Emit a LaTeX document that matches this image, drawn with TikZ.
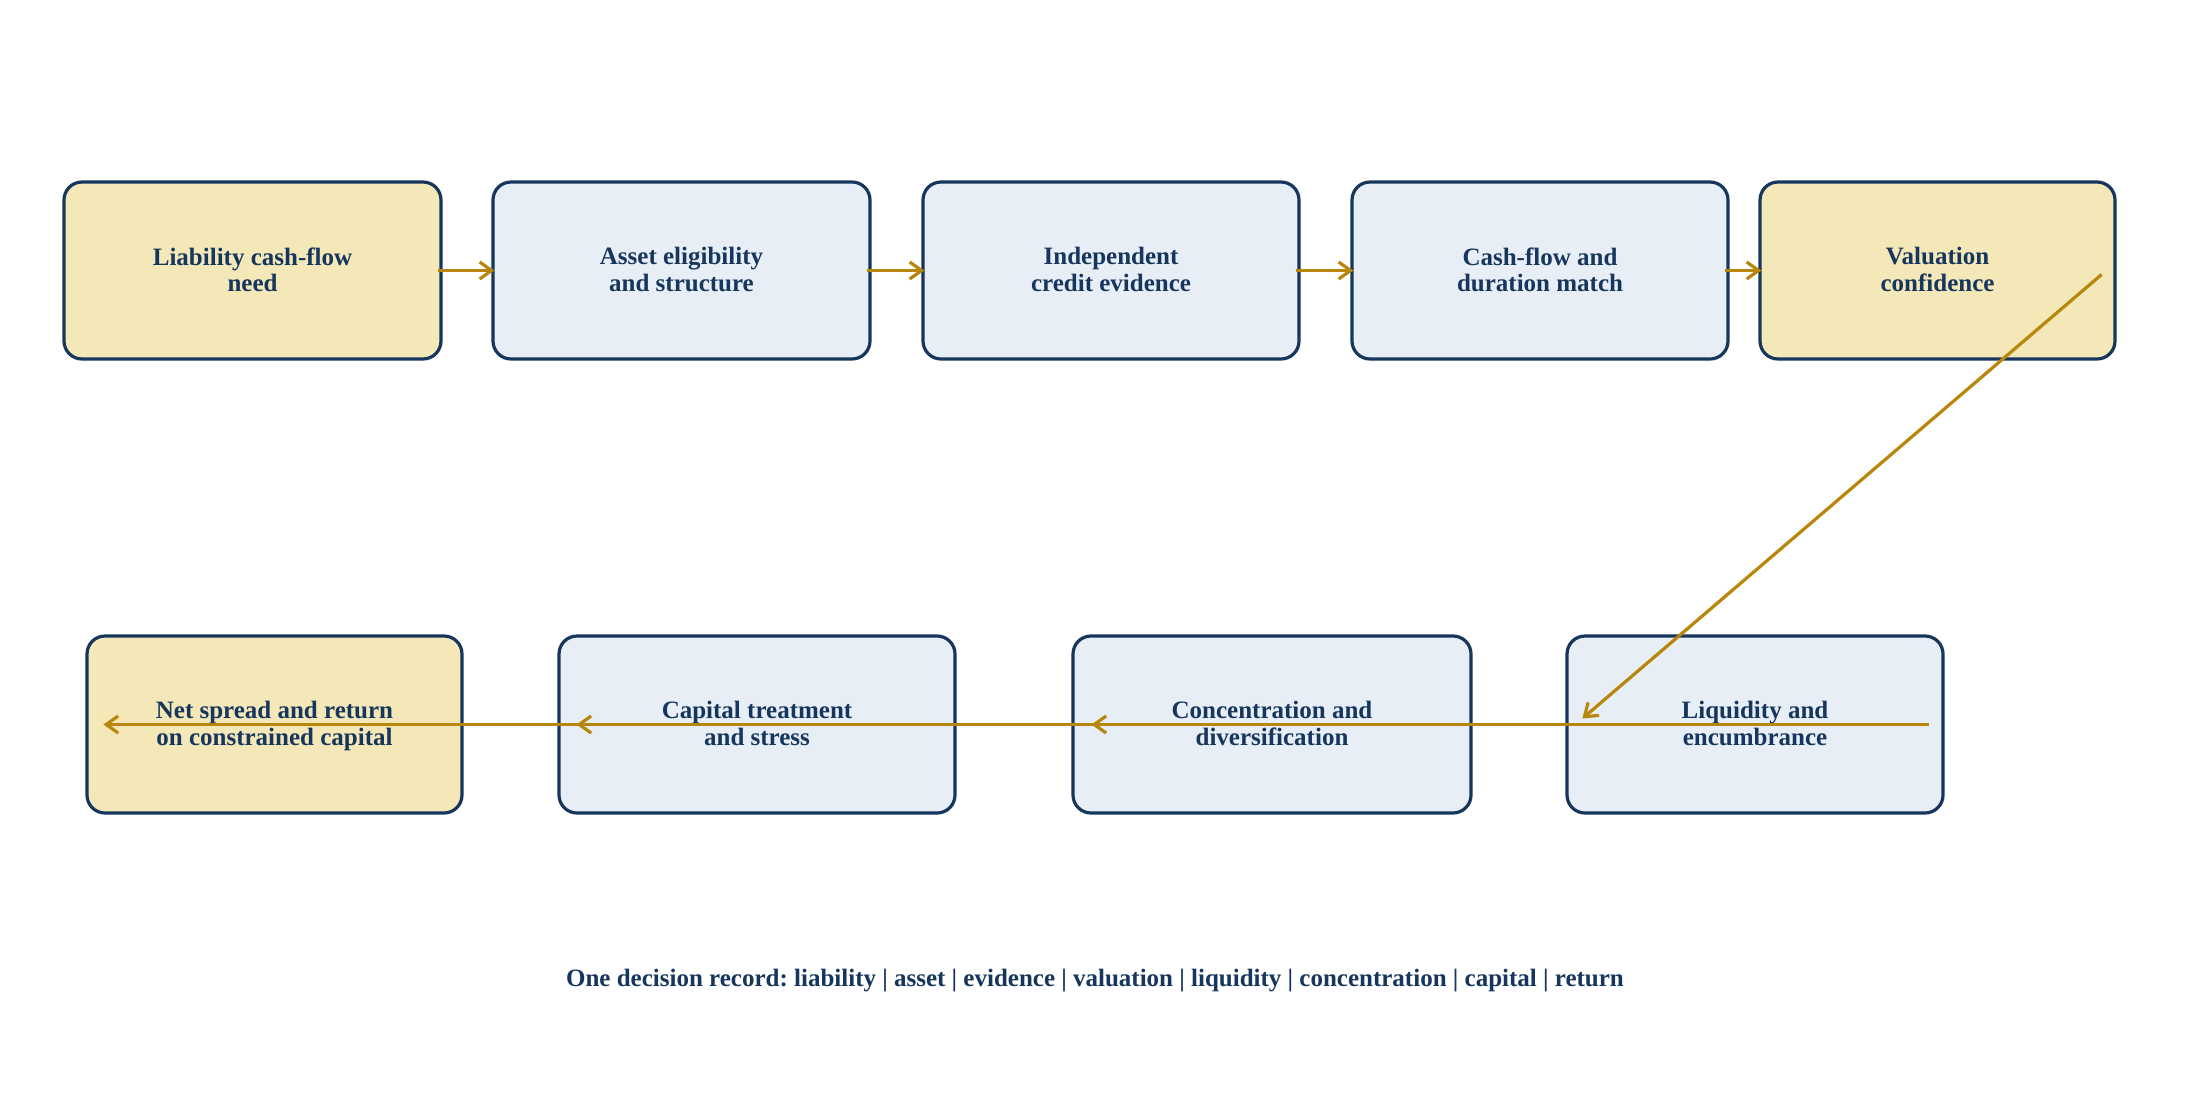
\documentclass[tikz,border=0pt]{standalone}
\usepackage{fontspec}
\setmainfont{Liberation Serif}
\usetikzlibrary{arrows.meta}
\definecolor{navy}{HTML}{17365D}
\definecolor{beige}{HTML}{F4E8B8}
\definecolor{paleblue}{HTML}{E7EEF6}
\definecolor{gold}{HTML}{B8860B}
\tikzset{
  box/.style={draw=navy, line width=3.2pt, rounded corners=18pt, minimum height=177pt,
    align=center, text=navy, font=\fontsize{25}{26.5}\selectfont\bfseries,
    inner sep=0pt, text depth=2pt},
  keybox/.style={box, fill=beige},
  plainbox/.style={box, fill=paleblue},
  flow/.style={draw=gold, line width=3.2pt, -{Straight Barb[length=12pt,width=17pt,line width=3.2pt]}},
  caption/.style={text=navy, font=\fontsize{25}{26.5}\selectfont\bfseries}
}
\frenchspacing
\begin{document}
\begin{tikzpicture}[x=1pt,y=-1pt]
\useasboundingbox[fill=white] (0,0) rectangle (2190,1112);
\node[keybox, minimum width=377pt] (b1) at (252.5,270.5) {Liability cash-flow\\need};
\node[plainbox, minimum width=377pt] (b2) at (681.5,270.5) {Asset eligibility\\and structure};
\node[plainbox, minimum width=376pt] (b3) at (1111,270.5) {Independent\\credit evidence};
\node[plainbox, minimum width=376pt] (b4) at (1540,270.5) {Cash-flow and\\duration match};
\node[keybox, minimum width=355pt] (b5) at (1937.5,270.5) {Valuation\\confidence};
\node[keybox, minimum width=375pt] (b6) at (274.5,724.5) {Net spread and return\\on constrained capital};
\node[plainbox, minimum width=396pt] (b7) at (757,724.5) {Capital treatment\\and stress};
\node[plainbox, minimum width=398pt] (b8) at (1272,724.5) {Concentration and\\diversification};
\node[plainbox, minimum width=376pt] (b9) at (1755,724.5) {Liquidity and\\encumbrance};
\node[caption] (cap) at (1095,981) {One decision record: liability | asset | evidence | valuation | liquidity | concentration | capital | return};
\draw[flow] ([xshift=-5pt]b1.east) -- ([xshift=3pt]b2.west);
\draw[flow] ([xshift=-5pt]b2.east) -- ([xshift=3pt]b3.west);
\draw[flow] ([xshift=-5pt]b3.east) -- ([xshift=3pt]b4.west);
\draw[flow] ([xshift=-5pt]b4.east) -- ([xshift=3pt]b5.west);
\draw[flow] ([xshift=-15pt,yshift=-4pt]b5.east) -- ([xshift=17pt,yshift=6pt]b9.west);
\draw[flow] ([xshift=-16pt]b9.east) -- ([xshift=20pt]b8.west);
\draw[flow] ([xshift=-15pt]b8.east) -- ([xshift=19pt]b7.west);
\draw[flow] ([xshift=-15pt]b7.east) -- ([xshift=18pt]b6.west);
\end{tikzpicture}
\end{document}
